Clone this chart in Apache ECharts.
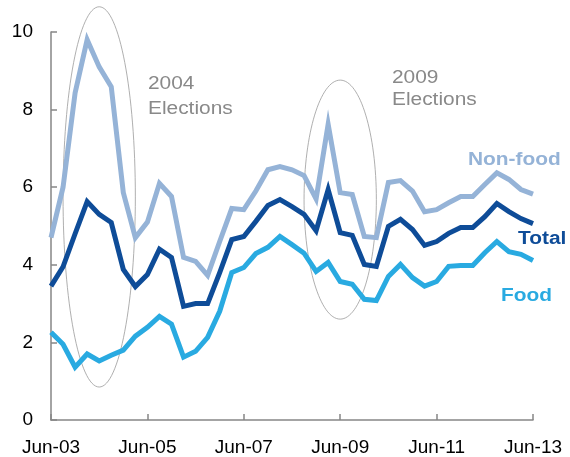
<!DOCTYPE html>
<html>
<head>
<meta charset="utf-8" />
<script src="https://cdn.jsdelivr.net/npm/echarts@6/dist/echarts.min.js"></script>
<style>
  html, body { margin: 0; padding: 0; background: #fff; }
  #chart { width: 570px; height: 457px; }
</style>
</head>
<body>
<div id="chart"></div>
<script>
const quarters = [
  "Jun-03", "Sep-03", "Dec-03", "Mar-04", "Jun-04", "Sep-04", "Dec-04", "Mar-05",
  "Jun-05", "Sep-05", "Dec-05", "Mar-06", "Jun-06", "Sep-06", "Dec-06", "Mar-07",
  "Jun-07", "Sep-07", "Dec-07", "Mar-08", "Jun-08", "Sep-08", "Dec-08", "Mar-09",
  "Jun-09", "Sep-09", "Dec-09", "Mar-10", "Jun-10", "Sep-10", "Dec-10", "Mar-11",
  "Jun-11", "Sep-11", "Dec-11", "Mar-12", "Jun-12", "Sep-12", "Dec-12", "Mar-13",
  "Jun-13",
];
const nonFood = [
  4.7, 6.0, 8.43, 9.8, 9.1, 8.59, 5.86, 4.7, 5.1, 6.1, 5.76, 4.19, 4.09, 3.73,
  4.6, 5.45, 5.42, 5.9, 6.45, 6.53, 6.45, 6.3, 5.7, 7.62, 5.86, 5.81, 4.73, 4.7,
  6.12, 6.17, 5.9, 5.37, 5.42, 5.6, 5.76, 5.76, 6.07, 6.37, 6.2, 5.94, 5.82,
];
const total = [
  3.45, 3.95, 4.8, 5.63, 5.3, 5.09, 3.88, 3.44, 3.75, 4.4, 4.19, 2.93, 3.0, 3.0,
  3.8, 4.65, 4.73, 5.12, 5.53, 5.68, 5.5, 5.3, 4.88, 5.94, 4.83, 4.76, 4.01, 3.96,
  4.99, 5.17, 4.91, 4.5, 4.6, 4.81, 4.96, 4.96, 5.24, 5.58, 5.37, 5.19, 5.06,
];
const food = [
  2.26, 1.95, 1.36, 1.7, 1.52, 1.67, 1.8, 2.16, 2.39, 2.67, 2.47, 1.62, 1.77, 2.13,
  2.8, 3.8, 3.93, 4.29, 4.45, 4.73, 4.52, 4.3, 3.83, 4.06, 3.57, 3.5, 3.11, 3.08,
  3.7, 4.01, 3.67, 3.45, 3.57, 3.96, 3.98, 3.98, 4.31, 4.6, 4.34, 4.27, 4.11,
];
// election ellipses: centre (category index, value), radii (index units, value units)
const elections = [
  { text: "2004\nElections", cx: 3.7, cy: 5.75, rx: 3.15, ry: 4.9, tx: 148, ty: 72, lh: 25 },
  { text: "2009\nElections", cx: 24.15, cy: 5.68, rx: 2.8, ry: 3.08, tx: 392, ty: 67, lh: 22 },
];

const FONT = "'Liberation Sans', Arial, sans-serif";
const C_NONFOOD = "#95B3D7";
const C_TOTAL = "#0E4C98";
const C_FOOD = "#29AAE1";
const AXIS_GREY = "#868686";
const STRETCH = 1.16; // the original text is set a bit wide

const chart = echarts.init(document.getElementById("chart"));
const showTick = (i) => i % 8 === 0;

let option = {
  animation: false,
  grid: { left: 51, right: 37, top: 32, bottom: 36 },
  xAxis: {
    type: "category",
    data: quarters,
    boundaryGap: false,
    axisLine: { lineStyle: { color: AXIS_GREY, width: 1.5 } },
    axisTick: { inside: true, length: 6, interval: showTick, lineStyle: { color: AXIS_GREY, width: 1.5 } },
    axisLabel: { interval: showTick, color: "#000", fontSize: 19, fontFamily: FONT, margin: 18 },
    splitLine: { show: false },
  },
  yAxis: {
    type: "value",
    min: 0,
    max: 10,
    interval: 2,
    axisLine: { show: true, lineStyle: { color: AXIS_GREY, width: 1.5 } },
    axisTick: { show: true, inside: true, length: 6, lineStyle: { color: AXIS_GREY, width: 1.5 } },
    axisLabel: { color: "#000", fontSize: 19, fontFamily: FONT, margin: 18 },
    splitLine: { show: false },
  },
  series: [
    { name: "Non-food", type: "line", data: nonFood, color: C_NONFOOD },
    { name: "Total", type: "line", data: total, color: C_TOTAL },
    { name: "Food", type: "line", data: food, color: C_FOOD },
  ].map((s) => ({
    ...s,
    symbol: "none",
    z: 3,
    lineStyle: { width: 5, join: "miter" },
  })),
};
chart.setOption(option);

// annotations
const graphic = [];
elections.forEach((e) => {
  const c = chart.convertToPixel({ gridIndex: 0 }, [e.cx, e.cy]);
  const r = chart.convertToPixel({ gridIndex: 0 }, [e.cx + e.rx, e.cy + e.ry]);
  graphic.push({
    type: "ellipse",
    z: 1,
    shape: { cx: c[0], cy: c[1], rx: Math.abs(r[0] - c[0]), ry: Math.abs(c[1] - r[1]) },
    style: { fill: "none", stroke: "#9a9a9a", lineWidth: 0.8 },
  });
  graphic.push({
    type: "text",
    z: 5,
    x: e.tx,
    y: e.ty,
    scaleX: STRETCH,
    style: { text: e.text, fill: "#898989", font: `18px ${FONT}`, lineHeight: e.lh },
  });
});
const seriesLabels = [
  { text: "Non-food", color: C_NONFOOD, x: 468, y: 151 },
  { text: "Total", color: C_TOTAL, x: 518, y: 230 },
  { text: "Food", color: C_FOOD, x: 501, y: 287 },
];
seriesLabels.forEach((l) => {
  graphic.push({
    type: "text",
    z: 5,
    x: l.x,
    y: l.y,
    scaleX: STRETCH,
    style: { text: l.text, fill: l.color, font: `bold 18px ${FONT}` },
  });
});
chart.setOption({ graphic });
</script>
</body>
</html>
